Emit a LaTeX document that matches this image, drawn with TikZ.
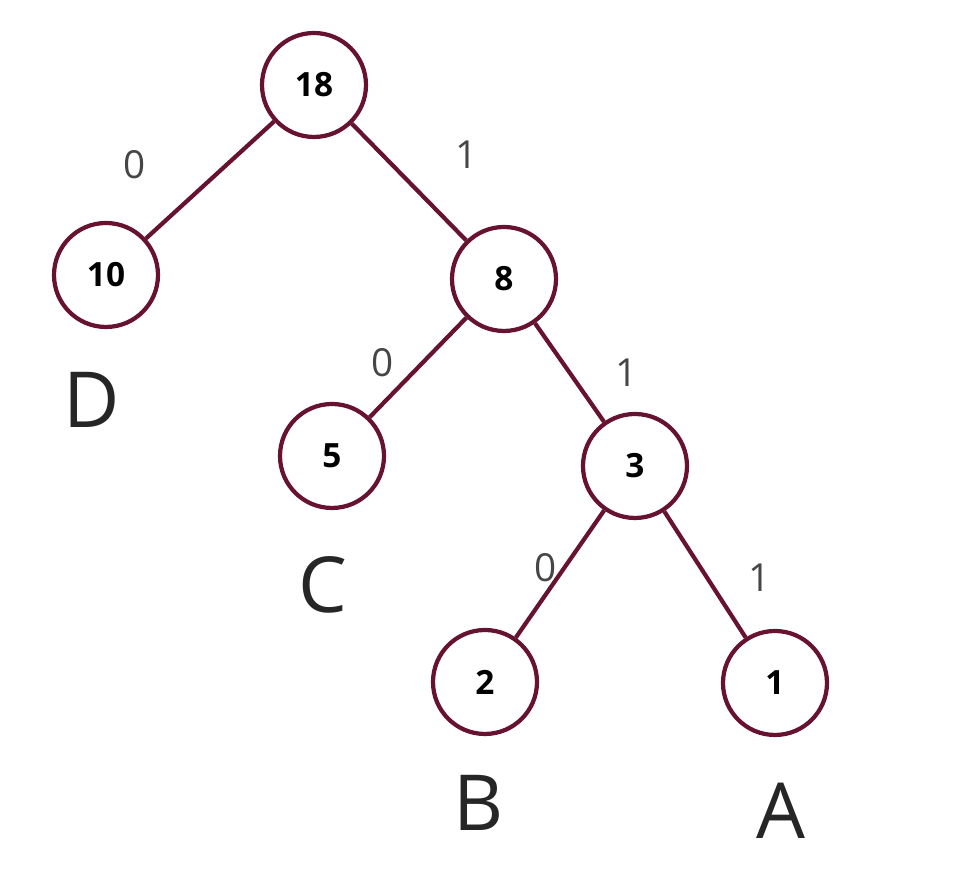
\documentclass[tikz,border=0pt]{standalone}
\usepackage{xcolor}
\usepackage{fontspec}
\setmainfont{Open Sans}
\usepackage{tikz}
\usetikzlibrary{positioning, calc}

\definecolor{huffred}{RGB}{102,18,48}
\definecolor{bitgray}{RGB}{70,70,70}

\begin{document}
\begin{tikzpicture}[
  nd/.style={
    circle, draw=huffred, fill=white,
    minimum size=1.04cm, inner sep=0pt,
    font=\fontsize{9.5}{11}\selectfont\bfseries, line width=1.2pt
  },
  lt/.style={font=\fontsize{22}{26}\selectfont, text=black!85},
  bit/.style={font=\fontsize{11}{13}\selectfont, text=bitgray},
  edge/.style={draw=huffred, line width=1.2pt}
]

\useasboundingbox (0,0) rectangle (9.72,8.78);

% ── Nodos del árbol ──────────────────────────────────────────
\node[nd] (R)  at (3.14, 7.93) {18};
\node[nd] (D)  at (1.06, 6.03) {10};
\node[nd] (N8) at (5.04, 5.99) {8};
\node[nd] (C)  at (3.32, 4.22) {5};
\node[nd] (N3) at (6.35, 4.12) {3};
\node[nd] (B)  at (4.85, 1.96) {2};
\node[nd] (A)  at (7.75, 1.95) {1};

% ── Letras de las hojas ──────────────────────────────────────
\node[lt] (LD) at (0.92, 4.78) {D};
\node[lt] (LC) at (3.23, 2.93) {C};
\node[lt] (LB) at (4.79, 0.75) {B};
\node[lt] (LA) at (7.81, 0.67) {A};

% ── Aristas ──────────────────────────────────────────────────
\draw[edge] (R)  -- (D);
\draw[edge] (R)  -- (N8);
\draw[edge] (N8) -- (C);
\draw[edge] (N8) -- (N3);
\draw[edge] (N3) -- (B);
\draw[edge] (N3) -- (A);

% ── Bits ─────────────────────────────────────────────────────
\node[bit] (b1) at (1.35, 7.13) {0};
\node[bit] (b2) at (4.67, 7.23) {1};
\node[bit] (b3) at (3.83, 5.15) {0};
\node[bit] (b4) at (6.27, 5.05) {1};
\node[bit] (b5) at (5.46, 3.10) {0};
\node[bit] (b6) at (7.60, 3.00) {1};

\end{tikzpicture}
\end{document}
